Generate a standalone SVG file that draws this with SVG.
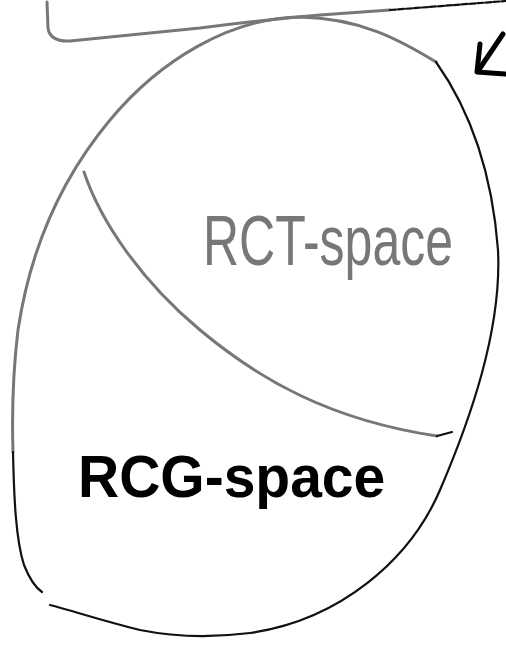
<svg xmlns="http://www.w3.org/2000/svg" width="506" height="645" viewBox="0 0 506 645">
<style>
.gray{fill:none;stroke:#777;stroke-width:3;stroke-linecap:round;stroke-linejoin:round}
.ink{fill:none;stroke:#111;stroke-width:2.2;stroke-linecap:round;stroke-linejoin:round}
.bold{fill:none;stroke:#000;stroke-width:5;stroke-linecap:round;stroke-linejoin:round}
.lbl{font-family:"Liberation Sans","DejaVu Sans",sans-serif}
</style>
<rect width="506" height="645" fill="#fff"/>
<g id="top-box">
<path class="gray" d="M47,2 L48,28 Q50,42 70,41 L200,28 Q260,20 320,15 L390,10"/>
<path class="ink" d="M390,10 L506,1" stroke-dasharray="6,2" stroke-width="1.5"/>
</g>
<g id="arrow">
<path class="bold" d="M503,34 L480,68"/>
<path class="bold" d="M480,44 L477,72 L505,74"/>
</g>
<g id="egg">
<path class="gray" d="M436,62 C400,40 360,18 300,17 C230,18 160,60 110,120 C60,180 30,250 18,330 C12,380 12,420 13,452"/>
<path class="ink" d="M436,62 C470,110 492,170 498,250 C502,330 470,420 440,490 C410,560 340,620 250,633 C210,638 170,636 140,630 C100,620 70,610 50,605"/>
<path class="ink" d="M13,452 C14,500 16,540 24,565 C30,580 36,588 42,592"/>
</g>
<g id="divider">
<path class="gray" d="M84,172 C100,220 140,280 200,330 C260,380 330,420 437,436"/>
<path class="ink" d="M437,436 L452,432" stroke-width="3"/>
</g>
<g id="rct-space">
<text class="lbl" transform="translate(203,265) scale(1,1.4)" x="0" y="0" font-size="50" fill="#777">RCT-space</text>
</g>
<g id="rcg-space">
<text class="lbl" transform="translate(78,497) scale(1,1.05)" x="0" y="0" font-size="57" fill="#000" font-weight="bold">RCG-space</text>
</g>
</svg>
